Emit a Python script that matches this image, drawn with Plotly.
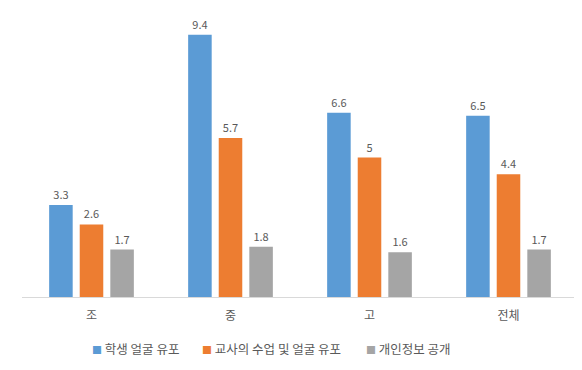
import plotly.graph_objects as go

categories = ["조", "중", "고", "전체"]
series_names = ["학생 얼굴 유포", "교사의 수업 및 얼굴 유포", "개인정보 공개"]
s1 = [3.3, 9.4, 6.6, 6.5]
s2 = [2.6, 5.7, 5, 4.4]
s3 = [1.7, 1.8, 1.6, 1.7]
colors = ["#5B9BD5", "#ED7D31", "#A5A5A5"]

# page body has an 8px margin; compensate so the figure fills the 582x370 window
W, H = 574, 362
L, R, T, B = 14, 4, 10, 73
fig = go.Figure()
for name, vals, c in zip(series_names, [s1, s2, s3], colors):
    fig.add_trace(go.Bar(
        x=categories, y=vals, name=name, marker_color=c, marker_line_width=0,
        text=[f"{v:g}" for v in vals], textposition="outside",
        textfont=dict(size=11, color="#595959"), cliponaxis=False,
    ))

plot_w = W - L - R
plot_h = H - T - B
legend_starts = [90, 200, 364]  # page x of each legend item
for name, c, px in zip(series_names, colors, legend_starts):
    fig.add_annotation(
        xref="paper", yref="paper",
        x=(px - 8 - L) / plot_w, y=-(348 - 297) / plot_h,
        xanchor="left", yanchor="middle", showarrow=False,
        text=f"<span style='color:{c};font-size:10px'>■</span> {name}",
        font=dict(size=12.5, color="#595959"),
    )

fig.update_layout(
    width=W, height=H,
    margin=dict(l=L, r=R, t=T, b=B),
    paper_bgcolor="white", plot_bgcolor="white",
    font=dict(family="Noto Sans CJK KR, sans-serif", color="#595959"),
    barmode="group", bargap=0.34, bargroupgap=0.23,
    showlegend=False,
    xaxis=dict(showline=True, linecolor="#D9D9D9", linewidth=1, ticks="",
               ticklabelstandoff=8,
               tickfont=dict(size=12, color="#595959"), showgrid=False),
    yaxis=dict(range=[0, 10], visible=False, showgrid=False, zeroline=False),
)
fig.update_traces(textangle=0)
fig.write_html("out.html")
